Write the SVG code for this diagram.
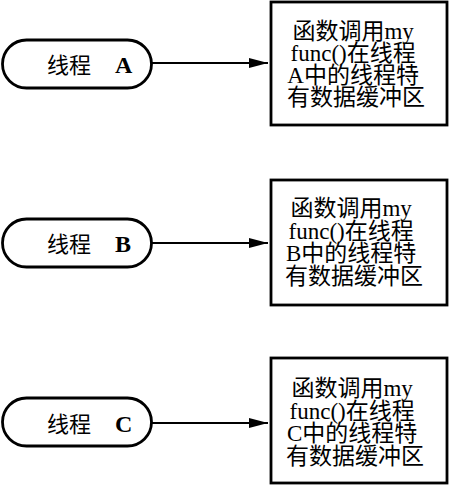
<svg xmlns="http://www.w3.org/2000/svg" width="451" height="486" viewBox="0 0 451 486">
  <defs>
    <marker id="arrow" markerWidth="20" markerHeight="12" refX="19" refY="5" orient="auto" markerUnits="userSpaceOnUse">
      <path d="M0,0 L19,5 L0,10 Z" fill="#000"/>
    </marker>
    <style>
      .pill { fill: #fff; stroke: #000; stroke-width: 2.8; }
      .box { fill: #fff; stroke: #000; stroke-width: 2.8; }
      .edge { fill: none; stroke: #000; stroke-width: 2; }
      .lbl { font-family: "Liberation Serif", "Noto Sans CJK SC", serif; font-size: 22px; fill: #000; }
      .tag { font-family: "Liberation Serif", serif; font-size: 24px; font-weight: bold; fill: #000; }
      .desc { font-family: "Liberation Serif", "Noto Sans CJK SC", serif; font-size: 23px; fill: #000; text-anchor: middle; }
    </style>
  </defs>

  <!-- thread A -->
  <g id="threadA">
    <rect class="pill" x="2.5" y="40" width="149" height="48" rx="24" ry="24"/>
    <text class="lbl" x="47" y="73">线程</text>
    <text class="tag" x="115" y="73">A</text>
  </g>
  <g id="bufferA">
    <rect class="box" x="271" y="2" width="176" height="123"/>
    <text class="desc">
      <tspan x="356" y="39">函数调用my</tspan>
      <tspan x="356" y="61">func()在线程</tspan>
      <tspan x="356" y="83">A中的线程特</tspan>
      <tspan x="356" y="105">有数据缓冲区</tspan>
    </text>
  </g>

  <!-- thread B -->
  <g id="threadB">
    <rect class="pill" x="2.5" y="219" width="149" height="48" rx="24" ry="24"/>
    <text class="lbl" x="47" y="252">线程</text>
    <text class="tag" x="115" y="252">B</text>
  </g>
  <g id="bufferB">
    <rect class="box" x="271" y="180" width="176" height="125"/>
    <text class="desc">
      <tspan x="354" y="216">函数调用my</tspan>
      <tspan x="354" y="238.5">func()在线程</tspan>
      <tspan x="354" y="261">B中的线程特</tspan>
      <tspan x="354" y="283.5">有数据缓冲区</tspan>
    </text>
  </g>

  <!-- thread C -->
  <g id="threadC">
    <rect class="pill" x="2.5" y="398" width="149" height="48" rx="24" ry="24"/>
    <text class="lbl" x="47" y="432">线程</text>
    <text class="tag" x="115" y="432">C</text>
  </g>
  <g id="bufferC">
    <rect class="box" x="271" y="358" width="176" height="125"/>
    <text class="desc">
      <tspan x="355" y="396">函数调用my</tspan>
      <tspan x="355" y="418.5">func()在线程</tspan>
      <tspan x="355" y="441">C中的线程特</tspan>
      <tspan x="355" y="463.5">有数据缓冲区</tspan>
    </text>
  </g>

  <!-- connectors -->
  <g id="connectors">
    <line class="edge" x1="152" y1="63" x2="268" y2="63" marker-end="url(#arrow)"/>
    <line class="edge" x1="152" y1="243" x2="268" y2="243" marker-end="url(#arrow)"/>
    <line class="edge" x1="152" y1="423" x2="268" y2="423" marker-end="url(#arrow)"/>
  </g>
</svg>
